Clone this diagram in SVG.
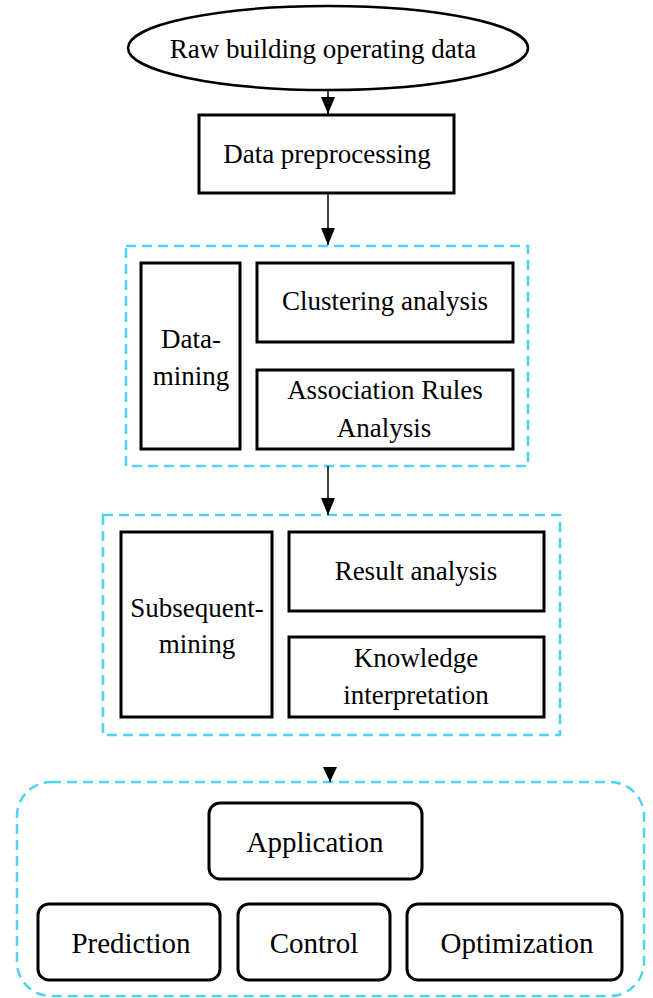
<svg xmlns="http://www.w3.org/2000/svg" width="653" height="998" viewBox="0 0 653 998">
<style>
  .box{fill:#fff;stroke:#000;stroke-width:3}
  .rbox{fill:#fff;stroke:#000;stroke-width:3}
  .grp{fill:none;stroke:#4fd3f3;stroke-width:2.5;stroke-dasharray:10 6}
  .t{font-family:"Liberation Serif","Times New Roman",serif;font-size:27px;fill:#000;text-anchor:middle}
  .tb{font-family:"Liberation Serif","Times New Roman",serif;font-size:29px;fill:#000;text-anchor:middle}
  .conn{stroke:#000;stroke-width:1.5;fill:none}
</style>
<defs>
  <marker id="ah" viewBox="0 0 17 14" refX="17" refY="7" markerWidth="17" markerHeight="14" markerUnits="userSpaceOnUse" orient="auto">
    <path d="M0,0 L17,7 L0,14 Z" fill="#000"/>
  </marker>
  <marker id="ah2" viewBox="0 0 15 14" refX="15" refY="7" markerWidth="15" markerHeight="14" markerUnits="userSpaceOnUse" orient="auto">
    <path d="M0,0 L15,7 L0,14 Z" fill="#000"/>
  </marker>
</defs>
<rect width="653" height="998" fill="#fff"/>

<g id="group-datamining"><rect class="grp" x="126" y="246" width="402" height="220"/></g>
<g id="group-subsequent"><rect class="grp" x="103" y="515" width="457" height="220"/></g>
<g id="group-application"><rect class="grp" x="17" y="782" width="627" height="214" rx="34"/></g>

<g id="raw">
  <ellipse cx="328" cy="48" rx="200" ry="42" fill="#fff" stroke="#000" stroke-width="2.5"/>
  <text class="t" x="323" y="58">Raw building operating data</text>
</g>
<g id="preprocessing">
  <rect class="box" x="199" y="115" width="255" height="78"/>
  <text class="t" x="327" y="163">Data preprocessing</text>
</g>
<g id="datamining">
  <rect class="box" x="141" y="263" width="99" height="186"/>
  <text class="t" x="191" y="348">Data-</text>
  <text class="t" x="191" y="385">mining</text>
</g>
<g id="clustering">
  <rect class="box" x="257" y="263" width="256" height="79"/>
  <text class="t" x="385" y="310">Clustering analysis</text>
</g>
<g id="association">
  <rect class="box" x="257" y="370" width="256" height="79"/>
  <text class="t" x="385" y="399">Association Rules</text>
  <text class="t" x="384" y="437">Analysis</text>
</g>
<g id="subsequent">
  <rect class="box" x="121" y="532" width="151" height="185"/>
  <text class="t" x="197" y="617">Subsequent-</text>
  <text class="t" x="197" y="653">mining</text>
</g>
<g id="result">
  <rect class="box" x="289" y="532" width="255" height="79"/>
  <text class="t" x="416" y="580">Result analysis</text>
</g>
<g id="knowledge">
  <rect class="box" x="289" y="637" width="255" height="80"/>
  <text class="t" x="416" y="667">Knowledge</text>
  <text class="t" x="416" y="704">interpretation</text>
</g>
<g id="application">
  <rect class="rbox" x="209" y="803" width="213" height="76" rx="11"/>
  <text class="tb" x="315" y="852">Application</text>
</g>
<g id="prediction">
  <rect class="rbox" x="38" y="904" width="182" height="76" rx="11"/>
  <text class="tb" x="131" y="953">Prediction</text>
</g>
<g id="control">
  <rect class="rbox" x="238" y="904" width="152" height="76" rx="11"/>
  <text class="tb" x="314" y="953">Control</text>
</g>
<g id="optimization">
  <rect class="rbox" x="407" y="904" width="215" height="76" rx="11"/>
  <text class="tb" x="517" y="953">Optimization</text>
</g>

<g id="connectors">
  <line class="conn" x1="328" y1="90" x2="328" y2="114" marker-end="url(#ah)"/>
  <line class="conn" x1="328" y1="193" x2="328" y2="245" marker-end="url(#ah)"/>
  <line class="conn" x1="328" y1="466" x2="328" y2="515" marker-end="url(#ah)"/>
  <line class="conn" x1="330" y1="770" x2="330" y2="782" marker-end="url(#ah2)"/>
</g>
</svg>
